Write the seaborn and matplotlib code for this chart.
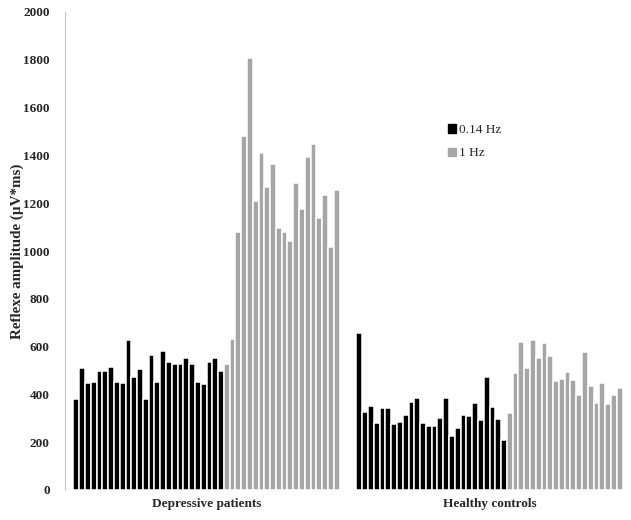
import pandas as pd
import matplotlib.pyplot as plt
import seaborn as sns
from matplotlib.patches import Patch

# values (uV*ms), one bar per subject
groups = ['Depressive patients', 'Healthy controls']
dep_low = [381, 509, 446, 452, 497, 497, 515, 450, 446, 628, 474, 506, 381,
           566, 450, 582, 534, 529, 529, 551, 526, 453, 444, 537, 551, 498]
dep_high = [527, 632, 1081, 1482, 1806, 1209, 1410, 1266, 1364, 1098, 1078,
            1043, 1286, 1177, 1395, 1448, 1139, 1234, 1018, 1257]
hc_low = [656, 326, 351, 279, 342, 344, 276, 286, 314, 368, 386, 279, 268,
          268, 301, 386, 226, 261, 314, 311, 364, 293, 471, 346, 297, 208]
hc_high = [324, 488, 619, 509, 628, 551, 616, 561, 456, 464, 492, 459, 399,
           577, 434, 365, 449, 361, 396, 427]
freq_labels = ['0.14 Hz', '1 Hz']
colors = ['#000000', '#a6a6a6']

# long table: each bar slot is its own hue level (like excel series)
rows = []
for g, low, high in [(groups[0], dep_low, dep_high), (groups[1], hc_low, hc_high)]:
    for i, v in enumerate(low + high):
        rows.append({'group': g, 'slot': f's{i:02d}', 'value': v})
df = pd.DataFrame(rows)

slots = [f's{i:02d}' for i in range(len(dep_low) + len(dep_high))]
pal = {s: (colors[0] if i < len(dep_low) else colors[1]) for i, s in enumerate(slots)}

sns.set_style('white')
plt.rcParams['font.family'] = ['Liberation Serif', 'DejaVu Serif']

fig = plt.figure(figsize=(6.31, 5.2), dpi=100)
ax = fig.add_axes([65 / 631, 30 / 520, 566 / 631, 478 / 520])
sns.barplot(data=df, x='group', y='value', hue='slot', hue_order=slots,
            order=groups, palette=pal, width=0.94, saturation=1,
            edgecolor='white', linewidth=1.1, legend=False, ax=ax)

ax.set_xlim(-0.5, 1.5)
ax.set_ylim(0, 2000)
ax.set_yticks(range(0, 2001, 200))
ax.set_xlabel('')
ax.set_ylabel('Reflexe amplitude (µV*ms)', fontsize=10.8, fontweight='bold', labelpad=-1)
ax.tick_params(axis='both', length=0, labelsize=9.5)
ax.tick_params(axis='y', pad=11)
ax.tick_params(axis='x', pad=6)
for lab in ax.get_xticklabels() + ax.get_yticklabels():
    lab.set_fontweight('bold')

for side in ['top', 'right', 'bottom']:
    ax.spines[side].set_visible(False)
ax.spines['left'].set_color('#c8c8c8')
ax.spines['left'].set_linewidth(0.8)

handles = [Patch(color=c, label=l) for c, l in zip(colors, freq_labels)]
ax.legend(handles=handles, loc='upper left', bbox_to_anchor=(0.655, 0.79),
          frameon=False, fontsize=9.5, handlelength=0.6, handleheight=0.6,
          handletextpad=0.3, labelspacing=0.85)

fig.savefig('out.png', dpi=100)
